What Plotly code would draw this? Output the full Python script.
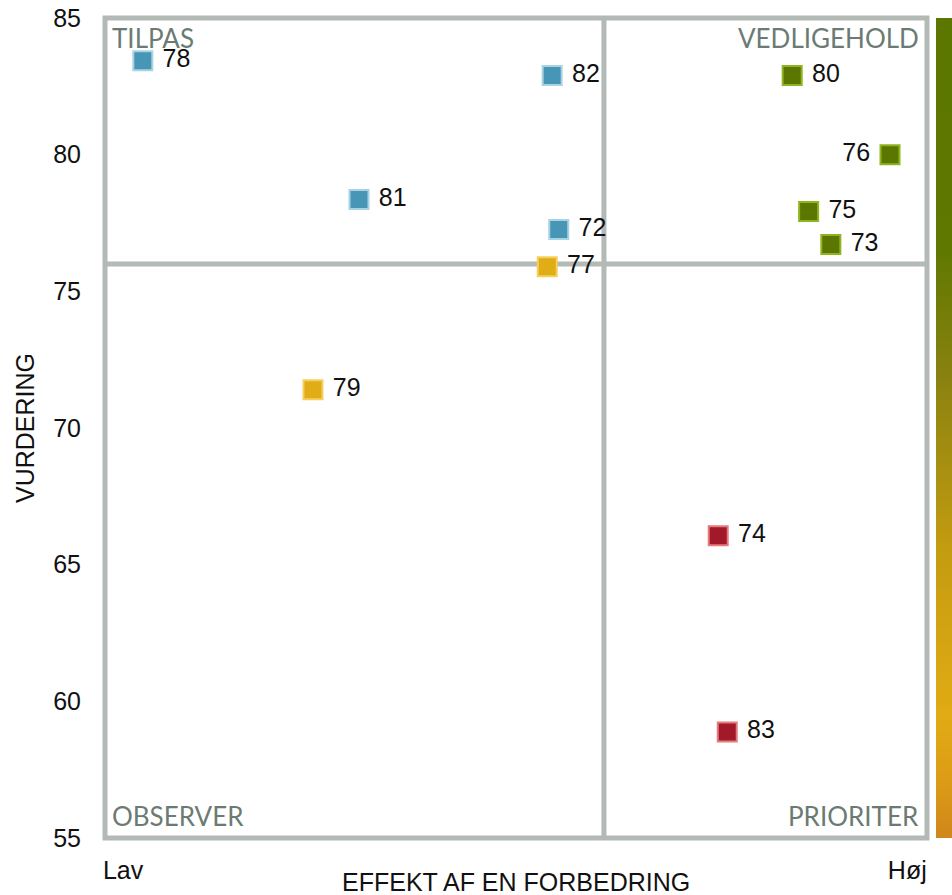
import plotly.graph_objects as go

# Data
labels = ["78", "82", "81", "72", "77", "79", "80", "76", "75", "73", "74", "83"]
effekt = [4.6, 54.4, 30.9, 55.2, 53.8, 25.3, 83.6, 95.5, 85.6, 88.3, 74.6, 75.7]
vurdering = [83.44, 82.9, 78.36, 77.26, 75.9, 71.4, 82.9, 80.0, 77.92, 76.71, 66.06, 58.88]
groups = ["tilpas", "tilpas", "tilpas", "tilpas", "observer", "observer",
          "vedligehold", "vedligehold", "vedligehold", "vedligehold",
          "prioriter", "prioriter"]

group_fill = {"tilpas": "#4896b5", "observer": "#e1ad17",
              "vedligehold": "#5c7700", "prioriter": "#a21a2a"}
group_line = {"tilpas": "#a8d3e4", "observer": "#f6cf5e",
              "vedligehold": "#8fb41e", "prioriter": "#e57b7f"}

x_mid = 60.7
y_mid = 76
x_range = [0, 100]
y_range = [55, 85]
y_ticks = [55, 60, 65, 70, 75, 80, 85]
x_tickvals = [2.2, 97.6]
x_ticktext = ["Lav", "Høj"]

gradient = [[0.0, "#d0861a"], [0.07, "#dc9c16"], [0.15, "#e0ab14"],
            [0.35, "#c49c10"], [0.56, "#8a8210"], [0.72, "#5e7800"],
            [1.0, "#5c7700"]]

grid_color = "#b3b9b5"
quad_color = "#6b7b74"
font_main = "Liberation Sans, Arial, sans-serif"
font_quad = "Lato, Open Sans, sans-serif"

fig = go.Figure()

# Quadrant frame (paper refs so the thick border is not clipped) and dividers
fig.add_shape(type="rect", xref="paper", yref="paper", x0=0, x1=1, y0=0, y1=1,
              line=dict(color=grid_color, width=5), layer="below")
fig.add_shape(type="line", x0=x_mid, x1=x_mid, y0=y_range[0], y1=y_range[1],
              line=dict(color=grid_color, width=5), layer="below")
fig.add_shape(type="line", x0=x_range[0], x1=x_range[1], y0=y_mid, y1=y_mid,
              line=dict(color=grid_color, width=5), layer="below")

# Points
positions = ["middle left" if lab == "76" else "middle right" for lab in labels]
fig.add_trace(
    go.Scatter(
        x=effekt,
        y=vurdering,
        mode="markers+text",
        text=["&nbsp;" + t if p == "middle right" else t + "&nbsp;"
              for t, p in zip(labels, positions)],
        textposition=positions,
        textfont=dict(family=font_main, size=25, color="#111111"),
        marker=dict(
            symbol="square",
            size=19,
            color=[group_fill[g] for g in groups],
            line=dict(color=[group_line[g] for g in groups], width=2),
        ),
        showlegend=False,
        hoverinfo="skip",
        cliponaxis=False,
    )
)

# Gradient bar on the right
fig.add_trace(
    go.Scatter(
        x=[None],
        y=[None],
        mode="markers",
        marker=dict(
            color=[0],
            cmin=0,
            cmax=1,
            colorscale=gradient,
            showscale=True,
            colorbar=dict(
                thickness=16,
                len=820,
                lenmode="pixels",
                x=1.011,
                xanchor="left",
                xpad=0,
                ypad=0,
                y=0.5,
                yanchor="middle",
                outlinewidth=0,
                showticklabels=False,
                ticks="",
            ),
        ),
        showlegend=False,
        hoverinfo="skip",
    )
)

# Quadrant labels
quad_labels = [
    ("TILPAS", 0, 1, "left", "top", 5, -2),
    ("VEDLIGEHOLD", 1, 1, "right", "top", -6, -2),
    ("OBSERVER", 0, 0, "left", "bottom", 5, 4),
    ("PRIORITER", 1, 0, "right", "bottom", -6, 4),
]
for text, qx, qy, xa, ya, dx, dy in quad_labels:
    fig.add_annotation(
        x=qx, y=qy, xref="x domain", yref="y domain", text=text,
        xanchor=xa, yanchor=ya, xshift=dx, yshift=dy, showarrow=False,
        font=dict(family=font_quad, size=26, color=quad_color),
    )

# Axis titles
fig.add_annotation(
    x=0.5, y=0, xref="paper", yref="paper", text="EFFEKT AF EN FORBEDRING",
    xanchor="center", yanchor="middle", yshift=-44, showarrow=False,
    font=dict(family=font_main, size=25, color="#111111"),
)
fig.add_annotation(
    x=0, y=0.5, xref="paper", yref="paper", text="VURDERING", textangle=-90,
    xanchor="center", yanchor="middle", xshift=-80, showarrow=False,
    font=dict(family=font_main, size=25, color="#111111"),
)

fig.update_xaxes(
    range=x_range,
    showgrid=False,
    zeroline=False,
    showline=False,
    tickvals=x_tickvals,
    ticktext=x_ticktext,
    ticks="outside",
    ticklen=10,
    tickcolor="rgba(0,0,0,0)",
    ticklabeloverflow="allow",
    tickfont=dict(family=font_main, size=25, color="#111111"),
)
fig.update_yaxes(
    range=y_range,
    showgrid=False,
    zeroline=False,
    showline=False,
    tickvals=y_ticks,
    ticks="outside",
    ticklen=18,
    tickcolor="rgba(0,0,0,0)",
    ticklabeloverflow="allow",
    tickfont=dict(family=font_main, size=25, color="#111111"),
)

fig.update_layout(
    width=952,
    height=895,
    margin=dict(l=105, r=25, t=18, b=57, autoexpand=False),
    plot_bgcolor="rgba(0,0,0,0)",
    paper_bgcolor="white",
)

# drop the browser's default 8px body margin so the figure fills the window
fig.write_html(
    "out.html",
    config={"displayModeBar": False},
    post_script="document.body.style.margin = '0';",
)
